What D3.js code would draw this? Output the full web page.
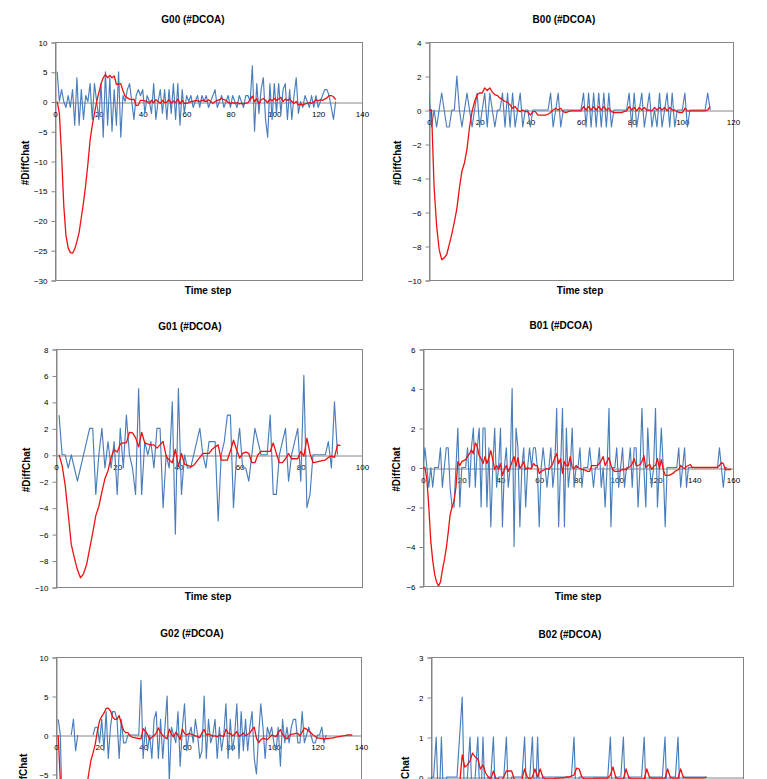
<!DOCTYPE html>
<html><head><meta charset="utf-8">
<script src="https://cdn.jsdelivr.net/npm/d3@7"></script>
<style>
body{margin:0;background:#fff}
svg{display:block}
text{font-family:"Liberation Sans",Arial,sans-serif;fill:#000}
</style>
</head><body>
<svg id="c" width="767" height="779"></svg>
<script>
// ---------------- DATA ----------------
const chartTitles = ["G00 (#DCOA)", "B00 (#DCOA)", "G01 (#DCOA)", "B01 (#DCOA)", "G02 (#DCOA)", "B02 (#DCOA)"];
const yAxisTitle = "#DiffChat";
const xAxisTitle = "Time step";

const xTicksG00 = [0,20,40,60,80,100,120,140];
const xTicksB00 = [0,20,40,60,80,100,120];
const xTicksG01 = [0,20,40,60,80,100];
const xTicksB01 = [0,20,40,60,80,100,120,140,160];
const xTicksG02 = [0,20,40,60,80,100,120,140];
const xTicksB02 = [0,20,40,60,80,100,120];

const yTicksG00 = [-30,-25,-20,-15,-10,-5,0,5,10];
const yTicksB00 = [-10,-8,-6,-4,-2,0,2,4];
const yTicksG01 = [-10,-8,-6,-4,-2,0,2,4,6,8];
const yTicksB01 = [-6,-4,-2,0,2,4,6];
const yTicksG02 = [-20,-15,-10,-5,0,5,10];
const yTicksB02 = [-3,-2,-1,0,1,2,3];

// first time step of each series
const startG00 = 1, startB00 = 0, startG01 = 1, startB01 = 0, startG02 = 1, startB02 = 0;

const blueG00 = [5,0,2,0,-1,1,-1,2,-4,4,
 -4,2,-3,1,0,3,-3,3,0,-3,
 3,-6,5,-4,4,-5,2,-4,5,-6,
 1,0,2,3,0,-3,1,2,1,2,
 -2,1,0,-2,3,-3,0,2,-2,2,
 -3,2,-2,3,-3,3,-4,2,-2,1,
 0,1,-1,0,1,-1,1,0,1,-1,
 0,1,2,-1,0,1,-1,0,1,-1,
 1,0,-1,1,0,-1,1,1,0,6,
 -5,3,-2,2,4,-3,-6,3,-3,3,
 -2,3,-2,2,3,-3,2,-3,1,4,
 -2,0,-1,1,0,-1,1,-1,1,-1,
 0,1,2,2,1,-1,-3,0];
const redG00 = [0,-2,-9,-17.5,-22.5,-24.6,-25.4,-25.5,-24.8,-23.5,
 -22,-19.5,-17,-14,-10.5,-6.5,-4,-2,0,1.5,
 3,4,4.5,4,4.4,4,4.3,2.9,2.9,3,
 1.8,0.9,0.6,0.4,0.3,0.4,-0.7,-0.6,0.2,0.2,
 0.1,0,-0.3,0.2,-0.2,0.3,0,-0.3,0.2,-0.2,
 -0.1,0.3,-0.3,0.1,-0.2,0.4,-0.4,0.2,-0.3,-0.3,
 -0.2,0,0,0.2,0.1,0,0.2,0.1,0,0.3,
 0,-0.3,0,0.2,0.3,0.5,0.3,0.2,-0.2,-0.3,
 -0.2,-0.3,-0.2,-0.4,-0.3,-0.4,-0.3,-0.2,0.3,0.9,
 0,0.5,-0.4,0.3,0.5,0.2,-0.2,0.4,0.1,0.5,
 0.2,0.4,0.7,0,0.4,0.2,0.4,0,-0.3,0,
 -0.6,-0.5,-0.6,-0.4,-0.3,-0.2,-0.3,-0.1,0.3,0.1,
 0.3,0.2,0.4,0.6,1.0,1.0,0.8,0.3];

const blueB00 = [1,-1,0,-1,0,1,0,-1,-1,0,
 0,2,0,-1,0,1,0,-1,0,1,
 -1,0,1,-1,1,0,-1,0,0,1,
 -1,1,-1,1,-1,0,1,-1,0,0,
 -1,0,0,0,0,0,0,0,1,-1,
 0,1,-1,0,0,0,0,0,0,0,
 0,1,-1,1,-1,1,-1,1,-1,1,
 -1,1,-1,0,0,0,0,0,0,1,
 -1,1,-1,0,1,-1,0,1,-1,0,
 -1,1,-1,0,1,-1,1,-1,0,0,
 0,1,-1,0,0,0,0,0,0,0,
 1,0];
const redB00 = [0,0,-4.5,-6.8,-8.2,-8.8,-8.7,-8.5,-7.9,-7.3,
 -6.6,-5.8,-4.6,-3.6,-3.1,-2.3,-1,-0.1,0.5,0.9,
 1.0,1.0,1.3,1.15,1.3,1.05,0.9,0.85,0.7,0.6,
 0.5,0.45,0.3,0.1,0.2,0,-0.1,0,-0.1,-0.1,
 -0.3,-0.1,-0.1,-0.3,-0.3,-0.3,-0.3,-0.25,-0.15,0,
 0.1,0,0.1,-0.1,-0.15,-0.1,-0.05,-0.05,-0.05,-0.05,
 -0.05,0.2,0,0.2,0,0.2,0,0.2,0,0.2,
 0,0.1,-0.1,-0.15,-0.15,-0.15,-0.15,-0.1,-0.05,0.2,
 0,0.15,-0.05,0.15,0,0.15,0,0,-0.05,0.15,
 0,0.15,0,0.15,-0.05,0.15,0,0,-0.1,-0.15,
 -0.15,0.1,-0.05,-0.05,-0.05,-0.05,-0.05,-0.05,-0.05,-0.05,
 0,0.2];

const blueG01 = [3,0,0,-1,0,-1,-2,-1,0,1,
 2,2,-3,0,2,-1,1,-1,1,-3,
 2,-1,3,0,-1,-3,5,-3,1,0,
 1,-1,2,2,-4,0,-1,4,-6,5,
 -3,0,-1,-1,0,1,2,0,-1,1,
 1,1,-5,0,1,3,3,-4,0,2,
 -1,-1,-2,0,2,1,0,0,0,3,
 -3,-3,0,1,2,-2,0,1,2,-2,
 6,-4,-3,0,0,0,0,0,1,-1,
 4,0];
const redG01 = [0,-0.8,-2.3,-4.5,-6.8,-7.8,-8.7,-9.3,-9.0,-8.3,
 -7.1,-5.9,-4.6,-3.9,-2.8,-1.8,-1.2,-0.2,0.4,0.2,
 0.8,0.9,0.9,1.7,1.65,1.3,0.6,1.7,0.9,0.8,
 0.75,0.75,0.5,0.75,1.0,-0.1,-0.4,-0.6,0.4,-0.9,
 0.1,-0.7,-0.8,-0.9,-0.8,-0.5,-0.2,0.1,0.1,0.1,
 0.4,0.6,0.75,-0.4,-0.4,-0.4,0.3,1.1,0.4,-0.25,
 0.1,0.2,0.1,-0.6,-0.6,0,0.25,0.25,0.25,0.25,
 0.9,0.1,-0.6,-0.6,-0.3,0.1,-0.3,-0.3,-0.3,0.25,
 -0.1,1.25,0.1,-0.6,-0.55,-0.5,-0.45,-0.4,-0.2,-0.1,
 -0.2,0.75,0.7];

const blueB01 = [0,1,0,-1,0,-1,0,0,0,1,
 -1,0,1,1,-1,-2,-2,0,2,-2,
 0,0,0,1,-1,1,2,-1,1,2,
 -2,2,2,-2,1,-3,0,2,-1,0,
 2,-3,0,1,-1,0,4,-4,2,1,
 -3,0,1,-2,0,1,0,1,1,0,
 -3,0,1,0,-1,0,1,-1,0,3,
 -3,0,3,-3,2,-1,0,2,-1,0,
 0,1,-1,0,0,0,1,0,-1,0,
 0,1,-1,0,-2,0,3,-3,0,0,
 1,-1,0,1,-1,0,0,1,-1,1,
 1,-2,0,3,0,-2,2,0,-1,0,
 3,-2,0,2,0,-3,0,0,0,0,
 0,0,1,-1,0,1,-1,0,0,0,
 0,0,0,0,0,0,0,0,0,0,
 0,0,0,1,0,-1,0,0];
const redB01 = [0,0,-0.6,-2,-3.7,-4.7,-5.4,-5.8,-6,-5.8,
 -5.2,-4.7,-4.1,-3.3,-2.4,-2,-1.7,-1,0.3,0.1,
 0.3,0.35,0.4,0.55,0.7,0.9,0.7,1.25,1.05,0.6,
 0.45,0.2,0.55,0.2,0.5,0.85,0.4,-0.1,0.1,-0.1,
 0.2,-0.4,-0.1,0.1,-0.2,0,0.3,0.55,0.05,0.5,
 -0.05,0.1,0.3,-0.1,0,-0.05,-0.05,0.2,0.1,0.1,
 -0.3,-0.2,-0.15,-0.1,-0.05,-0.1,0.05,0.2,0.5,0.7,
 0.2,0.45,-0.3,0.3,0.1,0.1,0.55,0,-0.05,0.1,
 0,-0.05,-0.1,-0.1,-0.15,-0.2,-0.2,0.1,0.1,0.1,
 0.1,0.2,0.35,0.55,0.1,0.3,0.5,0.1,-0.1,-0.2,
 -0.2,-0.2,-0.15,-0.1,-0.1,-0.1,0,0.05,0.2,0.45,
 0.1,0.1,0.15,0.3,0.6,0,0.1,0.15,-0.1,0.05,
 0.1,0.45,-0.05,0.4,-0.1,-0.4,-0.4,-0.4,-0.35,-0.3,
 -0.2,-0.15,-0.1,0.1,0,-0.05,0.05,0.1,0.15,0,
 0,0,0,0,0,0,0,0,0,0,
 0,0,0,0.1,0.25,0.2,-0.1,-0.1,-0.1,-0.1];

const blueG02 = [2,0,-12,null,null,null,0,2,-2,0,
 null,null,null,null,null,null,0,1,1,-1,
 2,-2,3,-3,1,3,3,2,-3,2,
 -1,-1,0,0,0,0,0,0,7,-3,
 1,-2,0,-3,2,3,-3,2,-3,1,
 5,-6,1,0,-1,3,-4,1,4,-2,
 0,1,-1,2,0,-3,-2,5,-3,2,
 -1,0,2,-3,1,-2,0,4,-3,2,
 -2,0,4,-3,3,-2,2,-2,1,3,
 -3,-5,0,4,1,-3,1,0,1,-1,
 -2,1,-4,2,-1,1,-1,1,2,2,
 -1,-1,3,-1,0,1,0,-1,-1,0,
 0,1,-1,0];
const redG02 = [0,-6,-12,-16,-18,-19,-19.2,-18.8,-17.5,-16,
 -14,-11.5,-9,-6.8,-5,-3.3,-2.3,-1.2,0.5,1.8,
 2.4,2.8,3.4,3.45,3.1,2.3,2,2,2.5,1.4,
 0.6,0.3,0.3,-0.1,-0.3,-0.35,-0.4,-0.45,-0.5,0.8,
 0.5,0.1,-0.6,-0.3,-0.1,0.25,0.9,0.3,-0.05,-0.3,
 -0.5,0.75,0.1,-0.25,0.35,0,-0.6,0.75,0.2,0,
 0.2,0.1,0,-0.1,-0.2,-0.35,0.3,0.7,0,0.1,
 0,-0.15,-0.1,-0.25,0,-0.1,-0.2,0.75,0.2,0.2,
 -0.1,0.1,0.45,-0.2,0,0.25,-0.1,0.1,0.25,0.7,
 1.0,-0.4,-1.0,-0.6,-0.4,-0.5,-0.6,-0.3,0,-0.1,
 -0.2,0.3,0.7,0.1,-0.3,-0.5,-0.1,0.1,0.1,0.2,
 0.2,-0.1,0.4,0.9,0.75,0.5,0.3,0,-0.2,-0.4,
 -0.4,-0.45,-0.5,-0.45,-0.45,-0.4,-0.4,-0.3,-0.25,-0.2,
 -0.15,-0.1,-0.05,0,0,0];

const blueB02 = [0,0,1,-1,1,-1,0,0,0,0,
 0,1,2,-1,0,1,-1,0,1,-1,
 1,-1,0,0,1,-1,0,0,0,1,
 -1,0,0,0,0,0,1,-1,0,1,
 -1,1,-1,0,0,0,0,0,0,0,
 0,0,0,0,0,1,-1,0,0,0,
 0,0,0,0,0,0,0,0,0,1,
 -1,0,0,0,1,-1,0,0,0,0,
 0,0,1,-1,0,0,0,0,0,0,
 1,-1,0,0,0,1,-1,0,0,0,
 0,0,0,0,0,0,0];
const redB02 = [0,-0.8,-1.6,-2.1,-2.3,-2.3,-2.1,-1.8,-1.4,-1.0,
 -0.6,-0.2,0.55,0.25,0.3,0.4,0.6,0.5,0.45,0.2,
 0.3,0.1,0,-0.05,0.15,-0.05,-0.05,-0.1,0,0.15,
 0.15,0.15,-0.05,-0.1,-0.1,-0.05,0.2,0,-0.05,0,
 0.2,0,0.2,0,-0.05,-0.05,-0.05,-0.05,-0.03,-0.03,
 -0.02,-0.02,0,0,0.02,0.05,0.22,0.2,0,-0.05,
 -0.05,-0.05,-0.05,-0.03,-0.03,-0.03,-0.03,-0.03,-0.03,0.05,
 0.25,0,-0.05,-0.05,-0.05,0.2,0,-0.05,-0.05,-0.05,
 -0.05,-0.05,-0.05,0.2,0,-0.03,-0.03,-0.03,-0.03,-0.03,
 -0.03,0.2,0,-0.03,-0.03,-0.03,0.2,0,-0.02,-0.02,
 -0.02,-0.02,-0.02,-0.02,-0.02,-0.02,0];

// ---------------- CHART DEFINITIONS ----------------
const panels = [
  {title: chartTitles[0], xTicks: xTicksG00, yTicks: yTicksG00, blue: blueG00, red: redG00, start: startG00},
  {title: chartTitles[1], xTicks: xTicksB00, yTicks: yTicksB00, blue: blueB00, red: redB00, start: startB00},
  {title: chartTitles[2], xTicks: xTicksG01, yTicks: yTicksG01, blue: blueG01, red: redG01, start: startG01},
  {title: chartTitles[3], xTicks: xTicksB01, yTicks: yTicksB01, blue: blueB01, red: redB01, start: startB01},
  {title: chartTitles[4], xTicks: xTicksG02, yTicks: yTicksG02, blue: blueG02, red: redG02, start: startG02},
  {title: chartTitles[5], xTicks: xTicksB02, yTicks: yTicksB02, blue: blueB02, red: redB02, start: startB02}
];

// layout (pixel positions) kept separately
const layout = [
  {x0:55,  x1:362, y0:42,  y1:280, tx:193, ty:19,  lx:25,  xlx:208, xly:290},
  {x0:429, x1:733, y0:42,  y1:280, tx:564, ty:19,  lx:397, xlx:580, xly:290},
  {x0:56,  x1:362, y0:349, y1:587, tx:190, ty:326, lx:26,  xlx:208, xly:596},
  {x0:423, x1:733, y0:349, y1:586, tx:561, ty:325, lx:396, xlx:578, xly:596},
  {x0:56,  x1:361, y0:657, y1:891, tx:192, ty:633, lx:23,  xlx:208, xly:901},
  {x0:431, x1:743, y0:657, y1:897, tx:570, ty:634, lx:405, xlx:587, xly:907}
];

const H = 779;
const svg = d3.select("#c");
const BLUE = "#4a7ebb", RED = "#ee1111", AXIS = "#868686";

panels.forEach((p, i) => {
  const L = layout[i];
  const g = svg.append("g");
  const x = d3.scaleLinear().domain(d3.extent(p.xTicks)).range([L.x0, L.x1]);
  const y = d3.scaleLinear().domain(d3.extent(p.yTicks)).range([L.y1, L.y0]);

  // plot border
  g.append("rect").attr("x", L.x0 + 0.5).attr("y", L.y0 + 0.5)
    .attr("width", L.x1 - L.x0).attr("height", L.y1 - L.y0)
    .attr("fill", "none").attr("stroke", AXIS).attr("stroke-width", 1);

  // y axis (only ticks that can appear in the window)
  const yVis = p.yTicks.filter(v => y(v) < H + 2);
  const yAxis = d3.axisLeft(y).tickValues(yVis).tickSize(4).tickPadding(4).tickFormat(d3.format("d"));
  const ya = g.append("g").attr("transform", `translate(${L.x0 + 0.5},0.5)`).call(yAxis);
  ya.select(".domain").attr("stroke", AXIS);
  ya.selectAll(".tick line").attr("stroke", AXIS);
  ya.selectAll(".tick text").attr("font-size", 8).attr("fill", "#000")
    .style("font-family", '"Liberation Sans",Arial,sans-serif');

  // x axis at zero
  const zeroY = Math.round(y(0)) + 0.5;
  const xAxis = d3.axisBottom(x).tickValues(zeroY + 8 < H ? p.xTicks : []).tickSize(0).tickPadding(9).tickFormat(d3.format("d"));
  const xa = g.append("g").attr("transform", `translate(0,${zeroY})`).call(xAxis);
  xa.select(".domain").attr("stroke", AXIS);
  xa.selectAll(".tick text").attr("font-size", 8).attr("fill", "#000")
    .style("font-family", '"Liberation Sans",Arial,sans-serif');

  // clip
  const cid = "clip" + i;
  svg.append("clipPath").attr("id", cid).append("rect")
    .attr("x", L.x0).attr("y", L.y0).attr("width", L.x1 - L.x0).attr("height", L.y1 - L.y0);

  const line = d3.line().defined(d => d.v !== null).x(d => x(d.t)).y(d => y(d.v));
  const blueData = p.blue.map((v, k) => ({t: k + p.start, v}));
  const redData = p.red.map((v, k) => ({t: k + p.start, v}));

  const lg = g.append("g").attr("clip-path", `url(#${cid})`);
  lg.append("path").attr("d", line(blueData)).attr("fill", "none")
    .attr("stroke", BLUE).attr("stroke-width", 1.15).attr("stroke-linejoin", "round");
  lg.append("path").attr("d", line(redData)).attr("fill", "none")
    .attr("stroke", RED).attr("stroke-width", 1.3).attr("stroke-linejoin", "round");

  // titles
  g.append("text").attr("x", L.tx).attr("y", L.ty).attr("text-anchor", "middle")
    .attr("dominant-baseline", "central").attr("font-size", 10).attr("font-weight", "bold").text(p.title);
  g.append("text").attr("transform", `translate(${L.lx},${(L.y0 + L.y1) / 2 + 2}) rotate(-90)`)
    .attr("text-anchor", "middle").attr("dominant-baseline", "central")
    .attr("font-size", 10).attr("font-weight", "bold").text(yAxisTitle);
  if (L.xly < H) {
    g.append("text").attr("x", L.xlx).attr("y", L.xly).attr("text-anchor", "middle")
      .attr("dominant-baseline", "central").attr("font-size", 10).attr("font-weight", "bold").text(xAxisTitle);
  }
});
</script>
</body></html>
